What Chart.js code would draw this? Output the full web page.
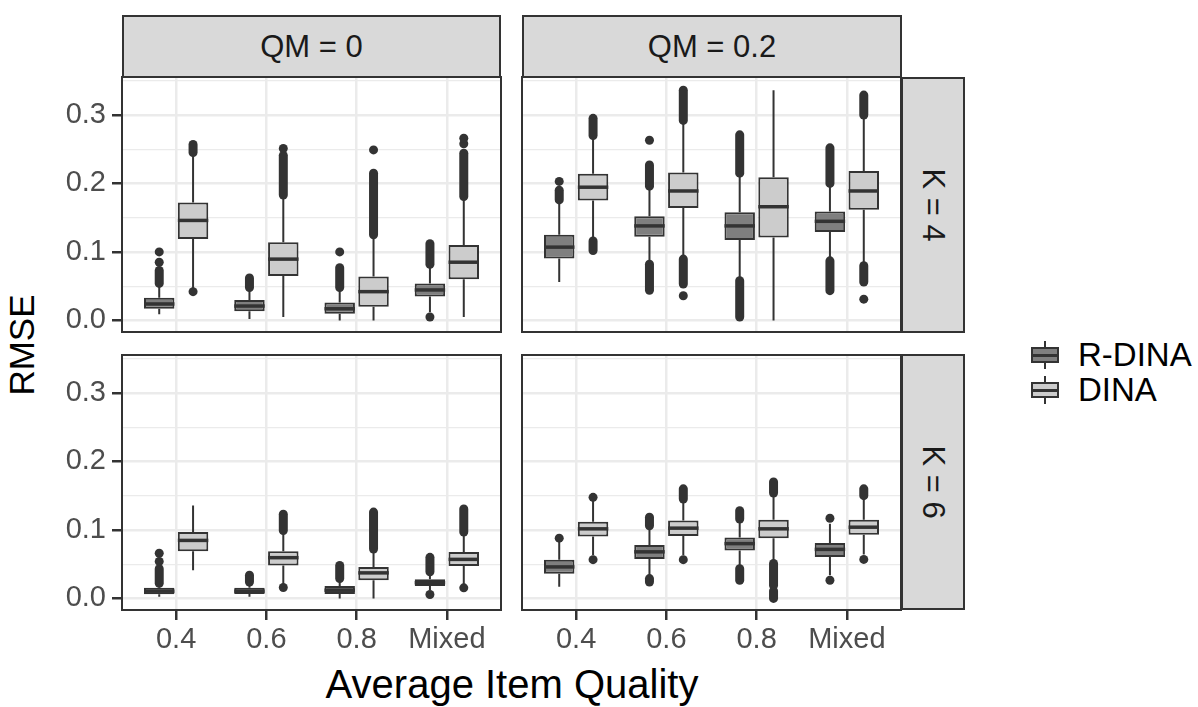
<!DOCTYPE html>
<html>
<head>
<meta charset="utf-8">
<script src="https://cdn.jsdelivr.net/npm/chart.js@4.4.1/dist/chart.umd.min.js"></script>
<style>
  body { margin: 0; background: #fff; font-family: 'Liberation Sans', Arial, sans-serif; }
  #wrap { position: relative; width: 1198px; height: 707px; overflow: hidden; background: #fff; }
  .pc { position: absolute; }
  .strip { position: absolute; background: #d9d9d9; border: 2px solid #333; box-sizing: border-box;
           color: #1a1a1a; font-size: 31px; display: flex; align-items: center; justify-content: center; }
  .strip.row span { display: inline-block; transform: rotate(90deg); white-space: nowrap; }
  .title { position: absolute; color: #000; white-space: nowrap; }
  .key { position: absolute; width: 30px; height: 28px; }
  .key .stem { position: absolute; left: 14px; top: 0; width: 2px; height: 28px; background: #333; }
  .key .box { position: absolute; left: 1px; top: 6px; width: 28px; height: 16px; border: 2px solid #333; box-sizing: border-box; }
  .key .med { position: absolute; left: 1px; top: 12.5px; width: 28px; height: 3px; background: #333; }
  .ltext { position: absolute; font-size: 33px; color: #000; white-space: nowrap; }
</style>
</head>
<body>
<div id="wrap">
  <div class="strip" style="left:122px;top:15px;width:379px;height:63px;">QM = 0</div>
  <div class="strip" style="left:522px;top:15px;width:380px;height:63px;">QM = 0.2</div>
  <div class="strip row" style="left:901px;top:77px;width:64px;height:256px;"><span>K = 4</span></div>
  <div class="strip row" style="left:901px;top:354px;width:64px;height:256px;"><span>K = 6</span></div>

  <div class="title" style="left:0;top:345px;width:44px;font-size:35px;">
    <div style="position:absolute;left:22px;top:0;transform:translate(-50%,-50%) rotate(-90deg);">RMSE</div>
  </div>
  <div class="title" style="left:262px;top:662px;width:500px;text-align:center;font-size:40px;">Average Item Quality</div>

  <div class="key" style="left:1030px;top:341px;"><div class="stem"></div><div class="box" style="background:#7f7f7f"></div><div class="med"></div></div>
  <div class="ltext" style="left:1078px;top:336px;">R-DINA</div>
  <div class="key" style="left:1030px;top:376px;"><div class="stem"></div><div class="box" style="background:#cccccc"></div><div class="med"></div></div>
  <div class="ltext" style="left:1078px;top:371px;">DINA</div>
</div>
<script>
// categories and series
const categories = ['0.4', '0.6', '0.8', 'Mixed'];
const methods = ['R-DINA', 'DINA'];
const methodFill = ['#7f7f7f', '#cccccc'];

// y axis breaks
const yMajor = [0, 0.1, 0.2, 0.3];
const yMinor = [0.05, 0.15, 0.25, 0.35];
const yLabels = ['0.0', '0.1', '0.2', '0.3'];

// box stats per category: [lower whisker, Q1, median, Q3, upper whisker]
const qm0k4Rdina = [[0.009, 0.017, 0.024, 0.033, 0.050], [0.002, 0.0135, 0.021, 0.030, 0.045], [0.000, 0.0097, 0.017, 0.026, 0.046], [0.012, 0.035, 0.0445, 0.054, 0.080]];
const qm0k4Dina = [[0.047, 0.119, 0.146, 0.172, 0.242], [0.005, 0.065, 0.0895, 0.114, 0.181], [0.000, 0.020, 0.042, 0.064, 0.123], [0.005, 0.060, 0.085, 0.110, 0.179]];
const qm2k4Rdina = [[0.056, 0.0905, 0.107, 0.125, 0.174], [0.085, 0.122, 0.138, 0.152, 0.194], [0.060, 0.1175, 0.138, 0.158, 0.213], [0.0895, 0.129, 0.1447, 0.159, 0.198]];
const qm2k4Dina = [[0.1185, 0.175, 0.1945, 0.214, 0.268], [0.092, 0.164, 0.189, 0.216, 0.290], [0.000, 0.121, 0.166, 0.209, 0.336], [0.082, 0.1615, 0.189, 0.218, 0.298]];
const qm0k6Rdina = [[0.0024, 0.006, 0.0106, 0.0155, 0.019], [0.0024, 0.0063, 0.0106, 0.0155, 0.0218], [0.000, 0.0063, 0.012, 0.018, 0.0266], [0.012, 0.018, 0.023, 0.028, 0.036]];
const qm0k6Dina = [[0.041, 0.0687, 0.0847, 0.097, 0.1355], [0.019, 0.048, 0.0595, 0.069, 0.097], [0.000, 0.0266, 0.0373, 0.046, 0.070], [0.0194, 0.0474, 0.057, 0.0677, 0.095]];
const qm2k6Rdina = [[0.017, 0.036, 0.046, 0.0566, 0.085], [0.031, 0.0576, 0.068, 0.078, 0.104], [0.046, 0.070, 0.080, 0.089, 0.1137], [0.034, 0.0605, 0.0716, 0.081, 0.109]];
const qm2k6Dina = [[0.063, 0.0905, 0.1016, 0.112, 0.143], [0.063, 0.091, 0.1026, 0.1137, 0.143], [0.053, 0.088, 0.1016, 0.1147, 0.152], [0.064, 0.093, 0.104, 0.1147, 0.1476]];

// outliers per category, as [from, to] runs of overlapping points (single point when from == to)
const qm0k4RdinaOut = [[[0.054, 0.073], [0.085, 0.085], [0.100, 0.100]], [[0.048, 0.062]], [[0.048, 0.077], [0.100, 0.100]], [[0.005, 0.005], [0.082, 0.112]]];
const qm0k4DinaOut = [[[0.042, 0.042], [0.245, 0.257]], [[0.183, 0.241], [0.251, 0.251]], [[0.125, 0.215], [0.249, 0.249]], [[0.181, 0.244], [0.258, 0.258], [0.266, 0.266]]];
const qm2k4RdinaOut = [[[0.176, 0.190], [0.203, 0.203]], [[0.044, 0.082], [0.196, 0.227], [0.263, 0.263]], [[0.005, 0.058], [0.215, 0.271]], [[0.0435, 0.087], [0.200, 0.252]]];
const qm2k4DinaOut = [[[0.102, 0.116], [0.270, 0.295]], [[0.036, 0.036], [0.053, 0.0895], [0.292, 0.336]], [], [[0.031, 0.031], [0.056, 0.080], [0.300, 0.329]]];
const qm0k6RdinaOut = [[[0.022, 0.0435], [0.054, 0.054], [0.066, 0.066]], [[0.024, 0.034]], [[0.029, 0.048]], [[0.0058, 0.0058], [0.039, 0.060]]];
const qm0k6DinaOut = [[], [[0.016, 0.016], [0.099, 0.123]], [[0.072, 0.126]], [[0.0155, 0.0155], [0.097, 0.1306]]];
const qm2k6RdinaOut = [[[0.088, 0.088]], [[0.024, 0.029], [0.106, 0.1185]], [[0.0266, 0.0435], [0.116, 0.128]], [[0.0266, 0.0266], [0.117, 0.117]]];
const qm2k6DinaOut = [[[0.0566, 0.0566], [0.1476, 0.1476]], [[0.0566, 0.0566], [0.145, 0.160]], [[0.000, 0.011], [0.019, 0.051], [0.154, 0.170]], [[0.057, 0.057], [0.150, 0.160]]];

Chart.defaults.font.family = "'Liberation Sans', Arial, sans-serif";

const INK = '#333333';

// draws whiskers, medians, outliers and the panel frame
const boxPlugin = {
  id: 'boxes',
  afterDatasetsDraw(chart) {
    const ctx = chart.ctx;
    const ys = chart.scales.y;
    chart.data.datasets.forEach((ds, di) => {
      const meta = chart.getDatasetMeta(di);
      meta.data.forEach((bar, i) => {
        const s = ds.stats[i];
        const x = bar.x, half = bar.width / 2;
        ctx.save();
        ctx.strokeStyle = INK;
        ctx.lineWidth = 2;
        ctx.beginPath();
        ctx.moveTo(x, ys.getPixelForValue(s[0]));
        ctx.lineTo(x, ys.getPixelForValue(s[1]));
        ctx.moveTo(x, ys.getPixelForValue(s[3]));
        ctx.lineTo(x, ys.getPixelForValue(s[4]));
        ctx.stroke();
        ctx.lineWidth = 3.5;
        ctx.beginPath();
        ctx.moveTo(x - half, ys.getPixelForValue(s[2]));
        ctx.lineTo(x + half, ys.getPixelForValue(s[2]));
        ctx.stroke();
        ctx.fillStyle = INK;
        ctx.lineWidth = 9;
        ctx.lineCap = 'round';
        ds.outliers[i].forEach(([a, b]) => {
          const pa = ys.getPixelForValue(a), pb = ys.getPixelForValue(b);
          if (Math.abs(pa - pb) < 0.5) {
            ctx.beginPath();
            ctx.arc(x, pa, 4.5, 0, Math.PI * 2);
            ctx.fill();
          } else {
            ctx.beginPath();
            ctx.moveTo(x, pa);
            ctx.lineTo(x, pb);
            ctx.stroke();
          }
        });
        ctx.restore();
      });
    });
  },
  afterDraw(chart) {
    const a = chart.chartArea, ctx = chart.ctx;
    ctx.save();
    ctx.strokeStyle = INK;
    ctx.lineWidth = 2;
    ctx.strokeRect(a.left, a.top, a.right - a.left, a.bottom - a.top);
    ctx.restore();
  }
};

const PANEL_W = 379, PANEL_H = 255;

function makePanel(left, top, rdina, dina, rdinaOut, dinaOut, showX, showY) {
  const axw = showY ? 72 : 4;
  const axh = showX ? 56 : 4;
  const canvas = document.createElement('canvas');
  canvas.className = 'pc';
  canvas.width = axw + PANEL_W + 2;
  canvas.height = PANEL_H + axh + 2;
  canvas.style.left = (left - axw) + 'px';
  canvas.style.top = (top - 2) + 'px';
  document.getElementById('wrap').appendChild(canvas);

  const series = [rdina, dina];
  const outs = [rdinaOut, dinaOut];
  const datasets = methods.map((m, mi) => ({
    label: m,
    data: categories.map((c, i) => ({ x: i + 1, y: [series[mi][i][1], series[mi][i][3]] })),
    stats: series[mi],
    outliers: outs[mi],
    backgroundColor: methodFill[mi],
    borderColor: INK,
    borderWidth: 2,
    borderSkipped: false,
    categoryPercentage: 0.75,
    barPercentage: 0.9
  }));

  const isMajor = v => yMajor.some(t => Math.abs(t - v) < 1e-9);

  return new Chart(canvas, {
    type: 'bar',
    data: { datasets },
    options: {
      responsive: false,
      animation: false,
      events: [],
      layout: { padding: { top: 2, right: 2, left: 0, bottom: 0 }, autoPadding: false },
      plugins: { legend: { display: false }, tooltip: { enabled: false } },
      scales: {
        x: {
          type: 'linear',
          min: 0.4,
          max: 4.6,
          offset: false,
          afterBuildTicks: s => { s.ticks = categories.map((c, i) => ({ value: i + 1 })); },
          afterFit: s => { s.height = axh; s.paddingLeft = 0; s.paddingRight = 0; },
          border: { display: false },
          grid: {
            offset: false,
            color: '#ebebeb',
            lineWidth: 2.5,
            drawTicks: showX,
            tickLength: 10,
            tickWidth: 2.5,
            tickColor: INK
          },
          ticks: {
            display: showX,
            autoSkip: false,
            maxRotation: 0,
            padding: 3,
            color: '#4d4d4d',
            font: { size: 29 },
            callback: v => categories[Math.round(v) - 1]
          }
        },
        y: {
          min: -0.0169,
          max: 0.3554,
          afterBuildTicks: s => { s.ticks = yMajor.concat(yMinor).sort((a, b) => a - b).map(v => ({ value: v })); },
          afterFit: s => { s.width = axw; s.paddingTop = 0; s.paddingBottom = 0; },
          border: { display: false },
          grid: {
            color: '#ebebeb',
            lineWidth: ctx => (ctx.tick && isMajor(ctx.tick.value)) ? 2.5 : 1.3,
            drawTicks: showY,
            tickLength: 10,
            tickWidth: 2.5,
            tickColor: ctx => (ctx.tick && isMajor(ctx.tick.value)) ? INK : 'rgba(0,0,0,0)'
          },
          ticks: {
            display: showY,
            autoSkip: false,
            padding: 6,
            color: '#4d4d4d',
            font: { size: 29 },
            callback: v => {
              const k = yMajor.findIndex(t => Math.abs(t - v) < 1e-9);
              return k >= 0 ? yLabels[k] : '';
            }
          }
        }
      }
    },
    plugins: [boxPlugin]
  });
}

makePanel(122, 77, qm0k4Rdina, qm0k4Dina, qm0k4RdinaOut, qm0k4DinaOut, false, true);
makePanel(522, 77, qm2k4Rdina, qm2k4Dina, qm2k4RdinaOut, qm2k4DinaOut, false, false);
makePanel(122, 355, qm0k6Rdina, qm0k6Dina, qm0k6RdinaOut, qm0k6DinaOut, true, true);
makePanel(522, 355, qm2k6Rdina, qm2k6Dina, qm2k6RdinaOut, qm2k6DinaOut, true, false);
</script>
</body>
</html>
